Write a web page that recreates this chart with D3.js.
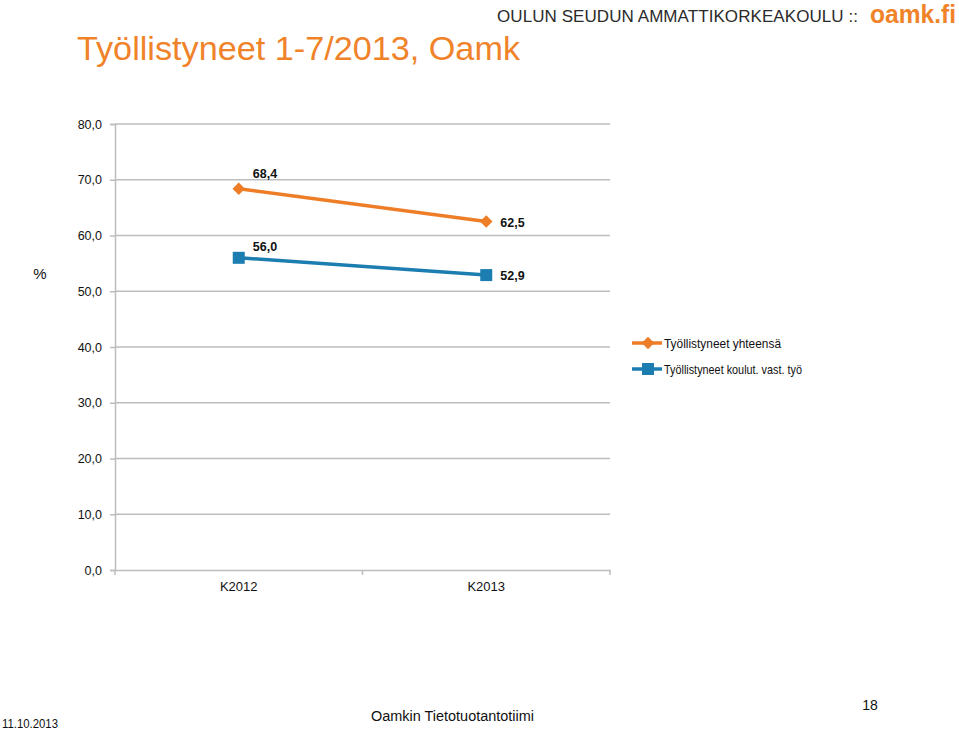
<!DOCTYPE html>
<html><head><meta charset="utf-8">
<script src="https://cdn.jsdelivr.net/npm/d3@7"></script>
<style>body{margin:0;background:#fff}svg{display:block}text{font-family:"Liberation Sans",Arial,sans-serif}</style>
</head><body>
<script>
const categories = ["K2012", "K2013"];
const seriesNames = ["Työllistyneet yhteensä", "Työllistyneet koulut. vast. työ"];
const totalValues = [68.4, 62.5];
const matchValues = [56.0, 52.9];
const yTicks = [0, 10, 20, 30, 40, 50, 60, 70, 80];

const W = 959, H = 730;
const svg = d3.select("body").append("svg").attr("width", W).attr("height", H);

const orange = "#EE7D27", blue = "#1B7DB0", titleOrange = "#F0832A";

// header
svg.append("text").attr("x", 77).attr("y", 60).attr("font-size", 34).attr("fill", titleOrange)
  .attr("textLength", 443).attr("lengthAdjust", "spacingAndGlyphs")
  .text("Työllistyneet 1-7/2013, Oamk");
svg.append("text").attr("x", 497).attr("y", 22)
  .attr("font-size", 17).attr("fill", "#2a2a2a")
  .attr("font-family", "'DejaVu Sans Condensed','Liberation Sans',sans-serif")
  .attr("textLength", 361).attr("lengthAdjust", "spacing")
  .text("OULUN SEUDUN AMMATTIKORKEAKOULU ::");
svg.append("text").attr("x", 870).attr("y", 23)
  .attr("font-size", 25).attr("font-weight", "bold").attr("fill", titleOrange)
  .attr("textLength", 86).attr("lengthAdjust", "spacingAndGlyphs")
  .text("oamk.fi");

const x0 = 115, x1 = 610, yTop = 124, yBot = 570;
const x = d3.scaleBand().domain(categories).range([x0, x1]);
const y = d3.scaleLinear().domain([0, 80]).range([yBot, yTop]);

// gridlines
svg.append("g").selectAll("line").data(yTicks.filter(d => d > 0)).join("line")
  .attr("x1", x0).attr("x2", x1).attr("y1", d => y(d)).attr("y2", d => y(d))
  .attr("stroke", "#bdbdbd").attr("stroke-width", 1.5);

// y axis
const yAxis = svg.append("g").attr("transform", `translate(${x0},0)`)
  .call(d3.axisLeft(y).tickValues(yTicks).tickSize(5).tickFormat(d => d3.format(".1f")(d).replace(".", ",")));
yAxis.select(".domain").attr("stroke", "#bdbdbd").attr("stroke-width", 1.5);
yAxis.selectAll(".tick line").attr("stroke", "#bdbdbd").attr("stroke-width", 1.5);
yAxis.selectAll(".tick text").attr("font-size", 12.5).attr("fill", "#111").attr("x", -13)
  .attr("font-family", "'Liberation Sans',sans-serif");

// x axis
const xAxis = svg.append("g").attr("transform", `translate(0,${yBot})`)
  .call(d3.axisBottom(x).tickSize(0).tickPadding(12));
xAxis.select(".domain").attr("stroke", "#bdbdbd").attr("stroke-width", 1.5);
xAxis.selectAll(".tick text").attr("font-size", 13).attr("fill", "#111")
  .attr("font-family", "'Liberation Sans',sans-serif");
const bounds = [x0, x0 + x.bandwidth(), x1];
svg.append("g").selectAll("line").data(bounds).join("line")
  .attr("x1", d => d).attr("x2", d => d).attr("y1", yBot).attr("y2", yBot + 5)
  .attr("stroke", "#bdbdbd").attr("stroke-width", 1.5);

svg.append("text").attr("x", 40).attr("y", 279).attr("text-anchor", "middle")
  .attr("font-size", 15).attr("fill", "#111").text("%");

const cx = d => x(d) + x.bandwidth() / 2;
const line = d3.line().x(d => cx(d.c)).y(d => y(d.v));
const totalData = categories.map((c, i) => ({c, v: totalValues[i]}));
const matchData = categories.map((c, i) => ({c, v: matchValues[i]}));

svg.append("path").datum(totalData).attr("d", line).attr("fill", "none").attr("stroke", orange).attr("stroke-width", 3.5);
svg.append("path").datum(matchData).attr("d", line).attr("fill", "none").attr("stroke", blue).attr("stroke-width", 3.5);

const diamond = d3.symbol().type(d3.symbolDiamond2).size(100);
svg.append("g").selectAll("path").data(totalData).join("path")
  .attr("transform", d => `translate(${cx(d.c)},${y(d.v)})`).attr("d", diamond).attr("fill", orange);
svg.append("g").selectAll("rect").data(matchData).join("rect")
  .attr("x", d => cx(d.c) - 6).attr("y", d => y(d.v) - 6).attr("width", 12).attr("height", 12).attr("fill", blue);

const fmt = v => d3.format(".1f")(v).replace(".", ",");
// data labels
const lblT = [{dx: 14, dy: -11}, {dx: 14, dy: 5}];
const lblM = [{dx: 14, dy: -7}, {dx: 14, dy: 5}];
svg.append("g").selectAll("text").data(totalData).join("text")
  .attr("x", (d, i) => cx(d.c) + lblT[i].dx).attr("y", (d, i) => y(d.v) + lblT[i].dy)
  .attr("font-size", 12.5).attr("font-weight", "bold").attr("fill", "#111").text(d => fmt(d.v));
svg.append("g").selectAll("text").data(matchData).join("text")
  .attr("x", (d, i) => cx(d.c) + lblM[i].dx).attr("y", (d, i) => y(d.v) + lblM[i].dy)
  .attr("font-size", 12.5).attr("font-weight", "bold").attr("fill", "#111").text(d => fmt(d.v));

// legend
const legend = svg.append("g");
const legY = [343, 369];
const legC = [orange, blue];
const legW = [117, 138];
seriesNames.forEach((n, i) => {
  legend.append("line").attr("x1", 632).attr("x2", 662).attr("y1", legY[i]).attr("y2", legY[i])
    .attr("stroke", legC[i]).attr("stroke-width", 3.5);
  if (i === 0) legend.append("path").attr("transform", `translate(648,${legY[i]})`).attr("d", diamond).attr("fill", orange);
  else legend.append("rect").attr("x", 642).attr("y", legY[i] - 6).attr("width", 12).attr("height", 12).attr("fill", blue);
  legend.append("text").attr("x", 664).attr("y", legY[i] + 5).attr("font-size", 13.5).attr("fill", "#111")
    .attr("textLength", legW[i]).attr("lengthAdjust", "spacingAndGlyphs").text(n);
});

// footer
svg.append("text").attr("x", 2).attr("y", 728).attr("font-size", 13.5).attr("fill", "#111")
  .attr("textLength", 56).attr("lengthAdjust", "spacingAndGlyphs").text("11.10.2013");
svg.append("text").attr("x", 371).attr("y", 721).attr("font-size", 14).attr("fill", "#111")
  .attr("textLength", 163).attr("lengthAdjust", "spacingAndGlyphs").text("Oamkin Tietotuotantotiimi");
svg.append("text").attr("x", 870).attr("y", 710).attr("text-anchor", "middle").attr("font-size", 14).attr("fill", "#111").text("18");
</script>
</body></html>
